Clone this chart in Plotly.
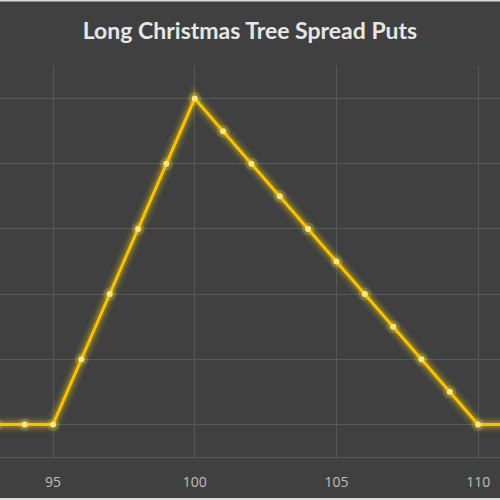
import plotly.graph_objects as go

strikes = [93, 94, 95, 96, 97, 98, 99, 100, 101, 102, 103, 104, 105, 106, 107, 108, 109, 110, 111]
profit = [-4, -4, -4, -2, 0, 2, 4, 6, 5, 4, 3, 2, 1, 0, -1, -2, -3, -4, -4]
x_ticks = [95, 100, 105, 110]

BG = "#404040"
GRID = "#585858"
LINE = "#FFC000"

fig = go.Figure()
# glow layers
for w, a in [(16, 0.06), (11, 0.10), (7, 0.18)]:
    fig.add_trace(go.Scatter(x=strikes, y=profit, mode="lines",
                             line=dict(color=f"rgba(255,230,0,{a})", width=w),
                             hoverinfo="skip", showlegend=False))
fig.add_trace(go.Scatter(x=strikes, y=profit, mode="markers",
                         marker=dict(size=13, color="rgba(255,235,80,0.18)"),
                         hoverinfo="skip", showlegend=False))
fig.add_trace(go.Scatter(x=strikes, y=profit, mode="lines+markers",
                         line=dict(color=LINE, width=3),
                         marker=dict(size=6, color="#FFE680"),
                         showlegend=False))

fig.update_layout(
    width=500, height=500,
    paper_bgcolor=BG, plot_bgcolor=BG,
    margin=dict(l=0, r=0, t=66, b=43),
    title=dict(text="<b>Long Christmas Tree Spread Puts</b>", x=0.5, xanchor="center",
               y=1 - 31 / 500, yanchor="middle",
               font=dict(family="Lato, Open Sans, sans-serif", size=23, color="#E6E6E6")),
    xaxis=dict(range=[93.13, 110.77], tickvals=x_ticks, showgrid=True, gridcolor=GRID,
               gridwidth=1, zeroline=False, showline=True, linecolor=GRID,
               tickfont=dict(family="Open Sans, sans-serif", size=14, color="#BFBFBF"),
               ticks="", ticklen=0, ticklabelstandoff=12),
    yaxis=dict(range=[-5, 7], dtick=2, showgrid=True, gridcolor=GRID, gridwidth=1,
               zeroline=False, showticklabels=False, showline=False),
    shapes=[
        dict(type="line", xref="paper", yref="paper", x0=0, x1=1,
             y0=(457 - 0.5) / 391, y1=(457 - 0.5) / 391,
             line=dict(color="#D9D9D9", width=2)),
        dict(type="line", xref="paper", yref="paper", x0=0, x1=1,
             y0=(457 - 499) / 391, y1=(457 - 499) / 391,
             line=dict(color="#D9D9D9", width=2)),
    ],
)

fig.write_html("out.html")
